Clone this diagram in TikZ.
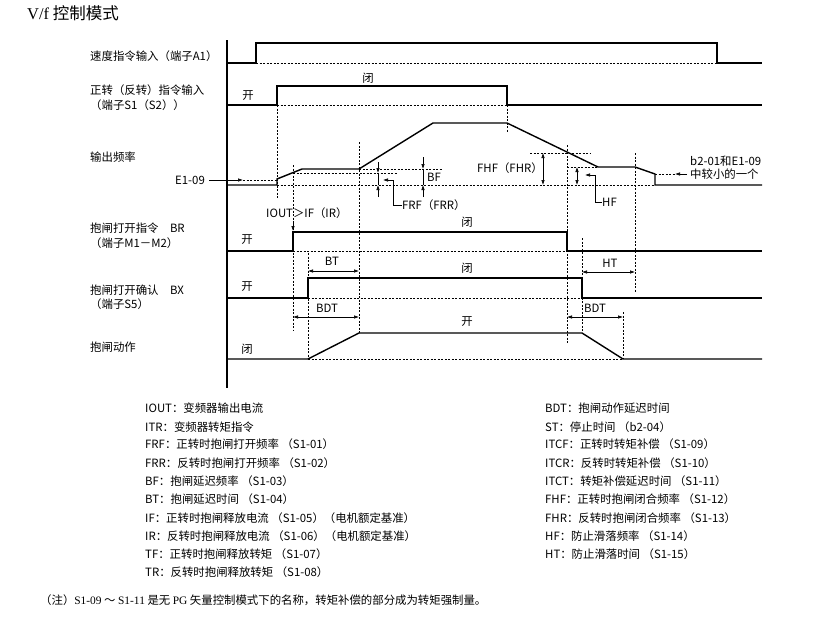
\documentclass[tikz,border=0pt]{standalone}
\usepackage{fontspec}
\setmainfont{Noto Sans CJK SC}
\newfontfamily\serifl{Liberation Serif}
\usetikzlibrary{arrows.meta}
\tikzset{
  sig/.style={line width=1.4pt},
  guide/.style={line width=0.5pt, dash pattern={on 2pt off 1.5pt}},
  tip/.style={-{Latex[length=5pt,width=3.5pt]}, line width=0.6pt},
  dimline/.style={{Latex[length=5pt,width=3.5pt]}-{Latex[length=5pt,width=3.5pt]}, line width=0.6pt},
  lbl/.style={anchor=west, inner sep=0pt, font=\fontsize{11.4}{13}\selectfont},
  tag/.style={inner sep=0pt, font=\fontsize{11.4}{13}\selectfont},
}
\begin{document}
\begin{tikzpicture}[x=1pt, y=-1pt]
  \useasboundingbox (0,0) rectangle (822,637);
  \node[anchor=west, inner sep=0pt, font=\fontsize{16.5}{18}\selectfont] (title) at (27,13) {{\serifl V/f} 控制模式};

  % time axis
  \draw[line width=2pt] (227,40) -- (227,388);

  % signal names
  \foreach \y/\t [count=\i] in {56/{速度指令输入（端子A1）}, 90/{正转（反转）指令输入}, 105/{（端子S1（S2））},
      157/{输出频率}, 228/{抱闸打开指令\hspace{1em}BR}, 243/{（端子M1－M2）},
      290/{抱闸打开确认\hspace{1em}BX}, 304/{（端子S5）}, 347/{抱闸动作}}
    \node[lbl] (name\i) at (90,\y) {\t};

  % speed command A1
  \draw[sig] (227,63) -| (256,43) -| (717,63) -- (762,63);
  \draw[guide] (256,63) -- (717,63);

  % run command S1 (S2)
  \draw[sig] (227,105) -| (277,86) -| (507,105) -- (762,105);
  \draw[guide] (277,105) -- (507,105);
  \node[tag] (runopen) at (248,96) {开};
  \node[tag] (runclose) at (368,78) {闭};

  % output frequency
  \draw[sig] (227,185) -- (277,185) -- (277,179) -- (302,169) -- (359,169) -- (433,123)
    -- (507,123) -- (598,167) -- (635,167) -- (655,174) -- (655,185) -- (762,185);
  \draw[guide] (277,185) -- (655,185);
  \draw[guide] (293,173) -- (398,173);
  \draw[guide] (359,169) -- (442,169);
  \draw[guide] (530,153) -- (590,153);
  \draw[guide] (567,167) -- (598,167);

  % time marks
  \foreach \x/\ya/\yb in {277/105/199, 293/165/330, 308/253/357, 359/142/333, 507/105/133,
      567/145/343, 582/238/333, 623/312/359, 635/153/292}
    \draw[guide] (\x,\ya) -- (\x,\yb);

  % E1-09
  \node[lbl] (e109) at (175,180) {E1-09};
  \coordinate (e109end) at (243,180);
  \draw[tip] ([xshift=4pt]e109.east) -- (e109end);
  \draw[guide] (e109end) -- (277,180);

  % FRF (FRR) and BF
  \draw[tip] (378,162) -- (378,173);
  \draw[tip] (378,197) -- (378,185);
  \draw[line width=0.6pt] (378,173) -- (378,185);
  \node[lbl] (frf) at (402,205) {FRF（FRR）};
  \draw[{Latex[length=5pt,width=3.5pt]}-, line width=0.6pt] (383,180) -| (393,205) -- (frf.west);
  \draw[tip] (423,157) -- (423,169);
  \draw[tip] (423,197) -- (423,185);
  \draw[line width=0.6pt] (423,169) -- (423,185);
  \node[lbl] (bf) at (427,177) {BF};

  % FHF (FHR) and HF
  \draw[dimline] (543,153) -- (543,185);
  \node[lbl] (fhf) at (477,168) {FHF（FHR）};
  \draw[dimline] (577,167) -- (577,185);
  \node[lbl] (hf) at (602,202) {HF};
  \draw[{Latex[length=5pt,width=3.5pt]}-, line width=0.6pt] (585,175) -| (595,202) -- (hf.west);

  % minimum of b2-01 and E1-09
  \node[lbl] (minsel) at (690,161) {b2-01和E1-09};
  \node[lbl] (minsel2) at (690,174) {中较小的一个};
  \coordinate (minselend) at (675,174);
  \draw[tip] ([xshift=-3pt]minsel2.west) -- (minselend);
  \draw[guide] (655,174) -- (minselend);

  % brake open command BR
  \node[lbl] (iout) at (266,213) {IOUT＞IF（IR）};
  \coordinate (brup) at (293,231);
  \draw[tip] ([yshift=-2pt]iout.south -| brup) -- (brup);
  \draw[sig] (227,251) -| (293,232) -| (567,251) -- (762,251);
  \draw[guide] (293,251) -- (567,251);
  \node[tag] (bropen) at (247,240) {开};
  \node[tag] (brclose) at (467,222) {闭};

  % brake open answer BX
  \draw[sig] (227,298) -| (308,278) -| (582,298) -- (762,298);
  \draw[guide] (308,298) -- (582,298);
  \node[tag] (bxopen) at (247,287) {开};
  \node[tag] (bxclose) at (467,268) {闭};
  \draw[dimline] (308,271) -- (359,271);
  \node[tag] (bt) at (332,261) {BT};
  \draw[dimline] (582,272) -- (635,272);
  \node[tag] (ht) at (610,263) {HT};

  % brake action
  \draw[sig] (227,359) -- (308,359) -- (359,333) -- (582,333) -- (623,359) -- (762,359);
  \draw[guide] (308,359) -- (623,359);
  \node[tag] (actclose) at (247,349) {闭};
  \node[tag] (actopen) at (467,322) {开};
  \draw[dimline] (293,317) -- (359,317);
  \node[tag] (bdt1) at (327,308) {BDT};
  \draw[dimline] (567,317) -- (623,317);
  \node[tag] (bdt2) at (595,308) {BDT};

  % legend
  \foreach \y/\t [count=\i] in {408/{IOUT：变频器输出电流}, 427/{ITR：变频器转矩指令},
      444/{FRF：正转时抱闸打开频率 （S1-01）}, 463/{FRR：反转时抱闸打开频率 （S1-02）},
      481/{BF：抱闸延迟频率 （S1-03）}, 499/{BT：抱闸延迟时间 （S1-04）},
      518/{IF：正转时抱闸释放电流 （S1-05）（电机额定基准）}, 536/{IR：反转时抱闸释放电流 （S1-06）（电机额定基准）},
      554/{TF：正转时抱闸释放转矩 （S1-07）}, 572/{TR：反转时抱闸释放转矩 （S1-08）}}
    \node[lbl] (legl\i) at (145,\y) {\t};
  \foreach \y/\t [count=\i] in {408/{BDT：抱闸动作延迟时间}, 427/{ST：停止时间 （b2-04）},
      444/{ITCF：正转时转矩补偿 （S1-09）}, 463/{ITCR：反转时转矩补偿 （S1-10）},
      481/{ITCT：转矩补偿延迟时间 （S1-11）}, 499/{FHF：正转时抱闸闭合频率 （S1-12）},
      518/{FHR：反转时抱闸闭合频率 （S1-13）}, 536/{HF：防止滑落频率 （S1-14）},
      554/{HT：防止滑落时间 （S1-15）}}
    \node[lbl] (legr\i) at (545,\y) {\t};

  \node[lbl] (note) at (40,600) {（注）{\serifl S1-09} ～ {\serifl S1-11} 是无 {\serifl PG} 矢量控制模式下的名称，转矩补偿的部分成为转矩强制量。};
\end{tikzpicture}
\end{document}
